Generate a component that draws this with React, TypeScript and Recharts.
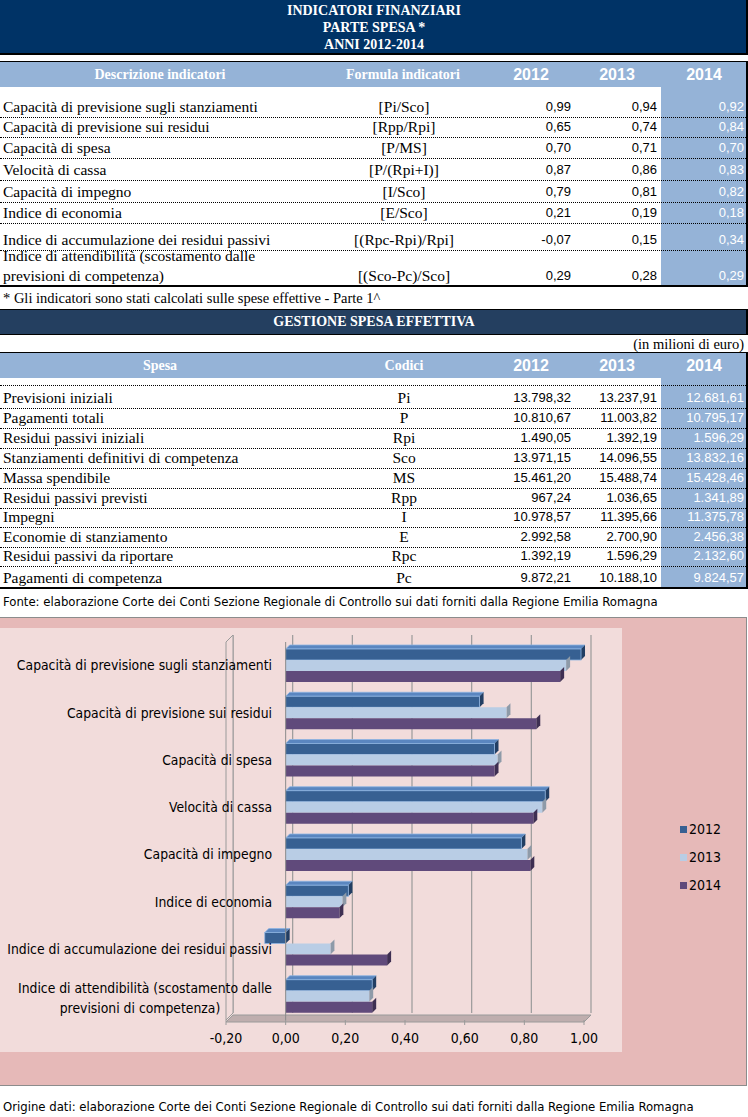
import React from "react";
import {
  BarChart,
  Bar,
  XAxis,
  YAxis,
  CartesianGrid,
  Legend,
  ReferenceArea,
  ReferenceLine,
} from "recharts";

// indicatori (parte spesa)
const indicatori = [
  "Capacità di previsione sugli stanziamenti",
  "Capacità di previsione sui residui",
  "Capacità di spesa",
  "Velocità di cassa",
  "Capacità di impegno",
  "Indice di economia",
  "Indice di accumulazione dei residui passivi",
  "Indice di attendibilità (scostamento dalle\nprevisioni di competenza)",
];
const formule = ["[Pi/Sco]", "[Rpp/Rpi]", "[P/MS]", "[P/(Rpi+I)]", "[I/Sco]", "[E/Sco]", "[(Rpc-Rpi)/Rpi]", "[(Sco-Pc)/Sco]"];
const ind2012 = [0.99, 0.65, 0.7, 0.87, 0.79, 0.21, -0.07, 0.29];
const ind2013 = [0.94, 0.74, 0.71, 0.86, 0.81, 0.19, 0.15, 0.28];
const ind2014 = [0.92, 0.84, 0.7, 0.83, 0.82, 0.18, 0.34, 0.29];

// gestione spesa effettiva (milioni di euro)
const voci = [
  "Previsioni iniziali",
  "Pagamenti totali",
  "Residui passivi iniziali",
  "Stanziamenti definitivi di competenza",
  "Massa spendibile",
  "Residui passivi previsti",
  "Impegni",
  "Economie di stanziamento",
  "Residui passivi da riportare",
  "Pagamenti di competenza",
];
const codici = ["Pi", "P", "Rpi", "Sco", "MS", "Rpp", "I", "E", "Rpc", "Pc"];
const spesa2012 = [13798.32, 10810.67, 1490.05, 13971.15, 15461.2, 967.24, 10978.57, 2992.58, 1392.19, 9872.21];
const spesa2013 = [13237.91, 11003.82, 1392.19, 14096.55, 15488.74, 1036.65, 11395.66, 2700.9, 1596.29, 10188.1];
const spesa2014 = [12681.61, 10795.17, 1596.29, 13832.16, 15428.46, 1341.89, 11375.78, 2456.38, 2132.6, 9824.57];

const anni = ["2012", "2013", "2014"];
const xTicks = [-0.2, 0, 0.2, 0.4, 0.6, 0.8, 1.0];

const FONTE = "Fonte: elaborazione Corte dei Conti Sezione Regionale di Controllo sui dati forniti dalla Regione Emilia Romagna";
const ORIGINE = "Origine dati: elaborazione Corte dei Conti Sezione Regionale di Controllo sui dati forniti dalla Regione Emilia Romagna";

// layout
const SERIF = '"Liberation Serif", "Times New Roman", serif';
const SANS = '"Liberation Sans", Arial, sans-serif';
const CHART_FONT = '"DejaVu Sans Condensed", "DejaVu Sans", sans-serif';
const BLUE = "#95B3D7";
const t1Rows = [96, 117, 137, 158, 180, 202, 223, 250, 286];
const t2Rows = [385, 408, 428, 448, 468, 488, 508, 527, 547, 566, 588];
const colRight = [571, 657, 744];
const colCenter = [531, 617, 704];

const colors = {
  y2012: { front: "#376092", top: "#5A86C0", side: "#223E63", edge: "#8DB4E2" },
  y2013: { front: "#B9CDE5", top: "#DCE6F2", side: "#8E9AA8", edge: "none" },
  y2014: { front: "#604A7B", top: "#7E68A0", side: "#3E2F52", edge: "none" },
};

function fmtIt(v: number) {
  const s = Math.abs(v).toFixed(2);
  const [int, frac] = s.split(".");
  return (v < 0 ? "-" : "") + int.replace(/\B(?=(\d{3})+(?!\d))/g, ".") + "," + frac;
}

function abs(top: number, left: number, width: number, height: number, extra: React.CSSProperties = {}): React.CSSProperties {
  return { position: "absolute", top, left, width, height, boxSizing: "border-box", ...extra };
}

function Bar3D(props: any) {
  let { x, y, width, height, c, topFace } = props;
  if (width < 0) {
    x = x + width;
    width = -width;
  }
  if (!width) return null;
  const d = 4;
  return (
    <g>
      {topFace && (
        <polygon
          points={`${x},${y} ${x + width},${y} ${x + width + d},${y - d} ${x + d},${y - d}`}
          fill={c.top}
          stroke={c.edge}
          strokeWidth={0.8}
        />
      )}
      <polygon
        points={`${x + width},${y} ${x + width + d},${y - d} ${x + width + d},${y + height - d} ${x + width},${y + height}`}
        fill={c.side}
      />
      <rect x={x} y={y} width={width} height={height} fill={c.front} stroke={c.edge} strokeWidth={0.8} />
    </g>
  );
}

function Walls(props: any) {
  const { x, y, width, height } = props;
  const d = 7;
  const b = y + height;
  return (
    <g>
      <polygon points={`${x},${b} ${x + d},${b - d} ${x + d},${y - d} ${x},${y}`} fill="#F2DCDB" stroke="#9A9A9A" />
      <polygon
        points={`${x},${b + 2} ${x + width},${b + 2} ${x + width + d},${b - d + 2} ${x + d},${b - d + 2}`}
        fill="#BFAEAE"
        stroke="#9A9A9A"
      />
    </g>
  );
}

function BackGrid(props: any) {
  const { x1, y1, x2, y2 } = props;
  return <line x1={x1 + 7} y1={y1 - 7} x2={x2 + 7} y2={y2 - 7} stroke="#9A9A9A" strokeWidth={1.2} />;
}

function CatTick({ x, y, payload }: any) {
  const lines = String(payload.value).split("\n");
  const style = { fontFamily: CHART_FONT, fontSize: 13.8, fill: "#000" };
  if (lines.length === 1) {
    return (
      <text x={x + 46} y={y} dy="0.35em" textAnchor="end" style={style}>
        {lines[0]}
      </text>
    );
  }
  return (
    <text textAnchor="middle" style={style}>
      <tspan x={x - 81} y={y - 8} dy="0.35em">{lines[0]}</tspan>
      <tspan x={x - 86} y={y + 12} dy="0.35em">{lines[1]}</tspan>
    </text>
  );
}

function LegendBox({ payload }: any) {
  return (
    <div style={{ fontFamily: CHART_FONT, fontSize: 14, color: "#000" }}>
      {(payload || []).map((p: any) => (
        <div key={p.value} style={{ display: "flex", alignItems: "center", height: 28 }}>
          <span style={{ width: 7, height: 7, background: p.color, marginRight: 2, display: "inline-block" }} />
          <span>{p.value}</span>
        </div>
      ))}
    </div>
  );
}

function IndicatorChart() {
  const data = indicatori.map((name, i) => ({ name, y2012: ind2012[i], y2013: ind2013[i], y2014: ind2014[i] }));
  return (
    <BarChart
      width={748}
      height={467}
      data={data}
      layout="vertical"
      margin={{ top: 24, right: 164, left: 0, bottom: 35 }}
      barGap={0}
      barSize={11}
      style={{ position: "absolute", top: 618, left: 0 }}
    >
      <ReferenceArea x1={-0.2} x2={1} shape={<Walls />} ifOverflow="visible" />
      <CartesianGrid horizontal={false} vertical={(p: any) => <BackGrid {...p} />} />
      <XAxis
        type="number"
        domain={[-0.2, 1]}
        ticks={xTicks}
        interval={0}
        tickFormatter={(v) => fmtIt(v)}
        tick={{ fontFamily: CHART_FONT, fontSize: 14, fill: "#000" }}
        tickLine={{ stroke: "#9A9A9A" }}
        tickSize={5}
        tickMargin={8}
        axisLine={false}
        height={30}
      />
      <YAxis
        type="category"
        dataKey="name"
        width={226}
        tick={<CatTick />}
        tickLine={false}
        axisLine={false}
        tickSize={0}
        tickMargin={0}
        interval={0}
      />
      <ReferenceLine x={0} stroke="#8A8A8A" />
      <Legend
        layout="vertical"
        align="center"
        verticalAlign="middle"
        content={<LegendBox />}
        wrapperStyle={{ left: 680, top: 197, width: 60 }}
      />
      <Bar dataKey="y2012" name="2012" fill={colors.y2012.front} isAnimationActive={false}
        shape={(p: any) => <Bar3D {...p} c={colors.y2012} topFace />} />
      <Bar dataKey="y2013" name="2013" fill={colors.y2013.front} isAnimationActive={false}
        shape={(p: any) => <Bar3D {...p} c={colors.y2013} />} />
      <Bar dataKey="y2014" name="2014" fill={colors.y2014.front} isAnimationActive={false}
        shape={(p: any) => <Bar3D {...p} c={colors.y2014} />} />
    </BarChart>
  );
}

function YearHeads({ top }: { top: number }) {
  return (
    <>
      {anni.map((a, i) => (
        <div key={a} style={abs(top, colCenter[i] - 40, 80, 25, {
          textAlign: "center", lineHeight: "25px", fontFamily: SANS, fontWeight: "bold", fontSize: 16, color: "#fff",
        })}>{a}</div>
      ))}
    </>
  );
}

function ValueCells({ top, height, vals }: { top: number; height: number; vals: number[] }) {
  return (
    <>
      {vals.map((v, i) => (
        <div key={i} style={abs(top, colRight[i] - 90, 90, height, {
          display: "flex", alignItems: "flex-end", justifyContent: "flex-end", lineHeight: "20px",
          fontFamily: SANS, fontSize: 13, color: i === 2 ? "#fff" : "#000",
        })}>{fmtIt(v)}</div>
      ))}
    </>
  );
}

export default function App() {
  const rowText: React.CSSProperties = {
    display: "flex", alignItems: "flex-end", lineHeight: "20px", fontFamily: SERIF, fontSize: 15.5, color: "#000",
  };
  const headText: React.CSSProperties = {
    textAlign: "center", lineHeight: "25px", fontFamily: SERIF, fontWeight: "bold", fontSize: 14, color: "#fff",
  };
  return (
    <div style={{ position: "absolute", top: 0, left: 0, width: 748, height: 1117, background: "#fff", overflow: "hidden" }}>
      {/* titolo */}
      <div style={abs(0, 0, 748, 55, { background: "#003366", borderBottom: "2px solid #000", borderRight: "2px solid #000" })} />
      {["INDICATORI FINANZIARI", "PARTE SPESA *", "ANNI 2012-2014"].map((t, i) => (
        <div key={t} style={abs(1.5 + i * 17, 0, 748, 17, {
          textAlign: "center", lineHeight: "17px", fontFamily: SERIF, fontWeight: "bold", fontSize: 14, color: "#fff",
        })}>{t}</div>
      ))}

      {/* tabella indicatori */}
      <div style={abs(61, 0, 748, 26, { background: BLUE, borderTop: "1px solid #000" })} />
      <div style={abs(62, 661, 85, 224, { background: BLUE })} />
      <div style={abs(61, 746, 2, 226, { background: "#000" })} />
      <div style={abs(62, 0, 320, 25, headText)}>Descrizione indicatori</div>
      <div style={abs(62, 330, 146, 25, headText)}>Formula indicatori</div>
      <YearHeads top={62} />
      {indicatori.map((d, i) => {
        const top = t1Rows[i];
        const h = t1Rows[i + 1] - top;
        return (
          <React.Fragment key={d}>
            <div style={abs(top, 3, 330, h, { ...rowText, whiteSpace: "pre-line" })}>{d}</div>
            <div style={abs(top, 330, 148, h, { ...rowText, justifyContent: "center" })}>{formule[i]}</div>
            <ValueCells top={top} height={h} vals={[ind2012[i], ind2013[i], ind2014[i]]} />
            {i > 0 && <div style={abs(top, 0, 746, 1, { borderTop: "1px dotted #000" })} />}
          </React.Fragment>
        );
      })}
      <div style={abs(285, 0, 748, 2, { background: "#000" })} />
      <div style={abs(289, 3, 740, 18, { fontFamily: SERIF, fontSize: 14.5, lineHeight: "18px", color: "#000" })}>
        * Gli indicatori sono stati calcolati sulle spese effettive - Parte 1^
      </div>

      {/* gestione spesa effettiva */}
      <div style={abs(309, 0, 748, 26, { background: "#243F60", borderTop: "1px solid #000", borderBottom: "1px solid #000", borderRight: "2px solid #000" })} />
      <div style={abs(309, 0, 748, 26, { ...headText, lineHeight: "26px" })}>GESTIONE SPESA EFFETTIVA</div>
      <div style={abs(335, 400, 344, 18, { textAlign: "right", lineHeight: "18px", fontFamily: SERIF, fontSize: 14.5, color: "#000" })}>(in milioni di euro)</div>
      <div style={abs(352, 0, 748, 26, { background: BLUE, borderTop: "1px solid #000" })} />
      <div style={abs(353, 661, 85, 235, { background: BLUE })} />
      <div style={abs(352, 746, 2, 236, { background: "#000" })} />
      <div style={abs(353, 0, 320, 25, headText)}>Spesa</div>
      <div style={abs(353, 330, 148, 25, headText)}>Codici</div>
      <YearHeads top={353} />
      {voci.map((v, i) => {
        const top = t2Rows[i];
        const h = t2Rows[i + 1] - top;
        return (
          <React.Fragment key={v}>
            <div style={abs(top, 0, 746, 1, { borderTop: "1px dotted #000" })} />
            <div style={abs(top, 3, 330, h, rowText)}>{v}</div>
            <div style={abs(top, 330, 148, h, { ...rowText, justifyContent: "center" })}>{codici[i]}</div>
            <ValueCells top={top} height={h} vals={[spesa2012[i], spesa2013[i], spesa2014[i]]} />
          </React.Fragment>
        );
      })}
      <div style={abs(587, 0, 748, 2, { background: "#000" })} />
      <div style={abs(593, 3, 745, 18, { fontFamily: CHART_FONT, fontSize: 13, lineHeight: "18px", color: "#000", whiteSpace: "nowrap" })}>{FONTE}</div>

      {/* grafico */}
      <div style={abs(617, 0, 747, 469, { background: "#E6B9B8", borderTop: "1px solid #8C8C8C", borderRight: "1px solid #8C8C8C", borderBottom: "1px solid #8C8C8C" })} />
      <div style={abs(628, 0, 622, 424, { background: "#F2DCDB" })} />
      <IndicatorChart />
      <div style={abs(1098, 3, 745, 18, { fontFamily: CHART_FONT, fontSize: 13, lineHeight: "18px", color: "#000", whiteSpace: "nowrap" })}>{ORIGINE}</div>
    </div>
  );
}
